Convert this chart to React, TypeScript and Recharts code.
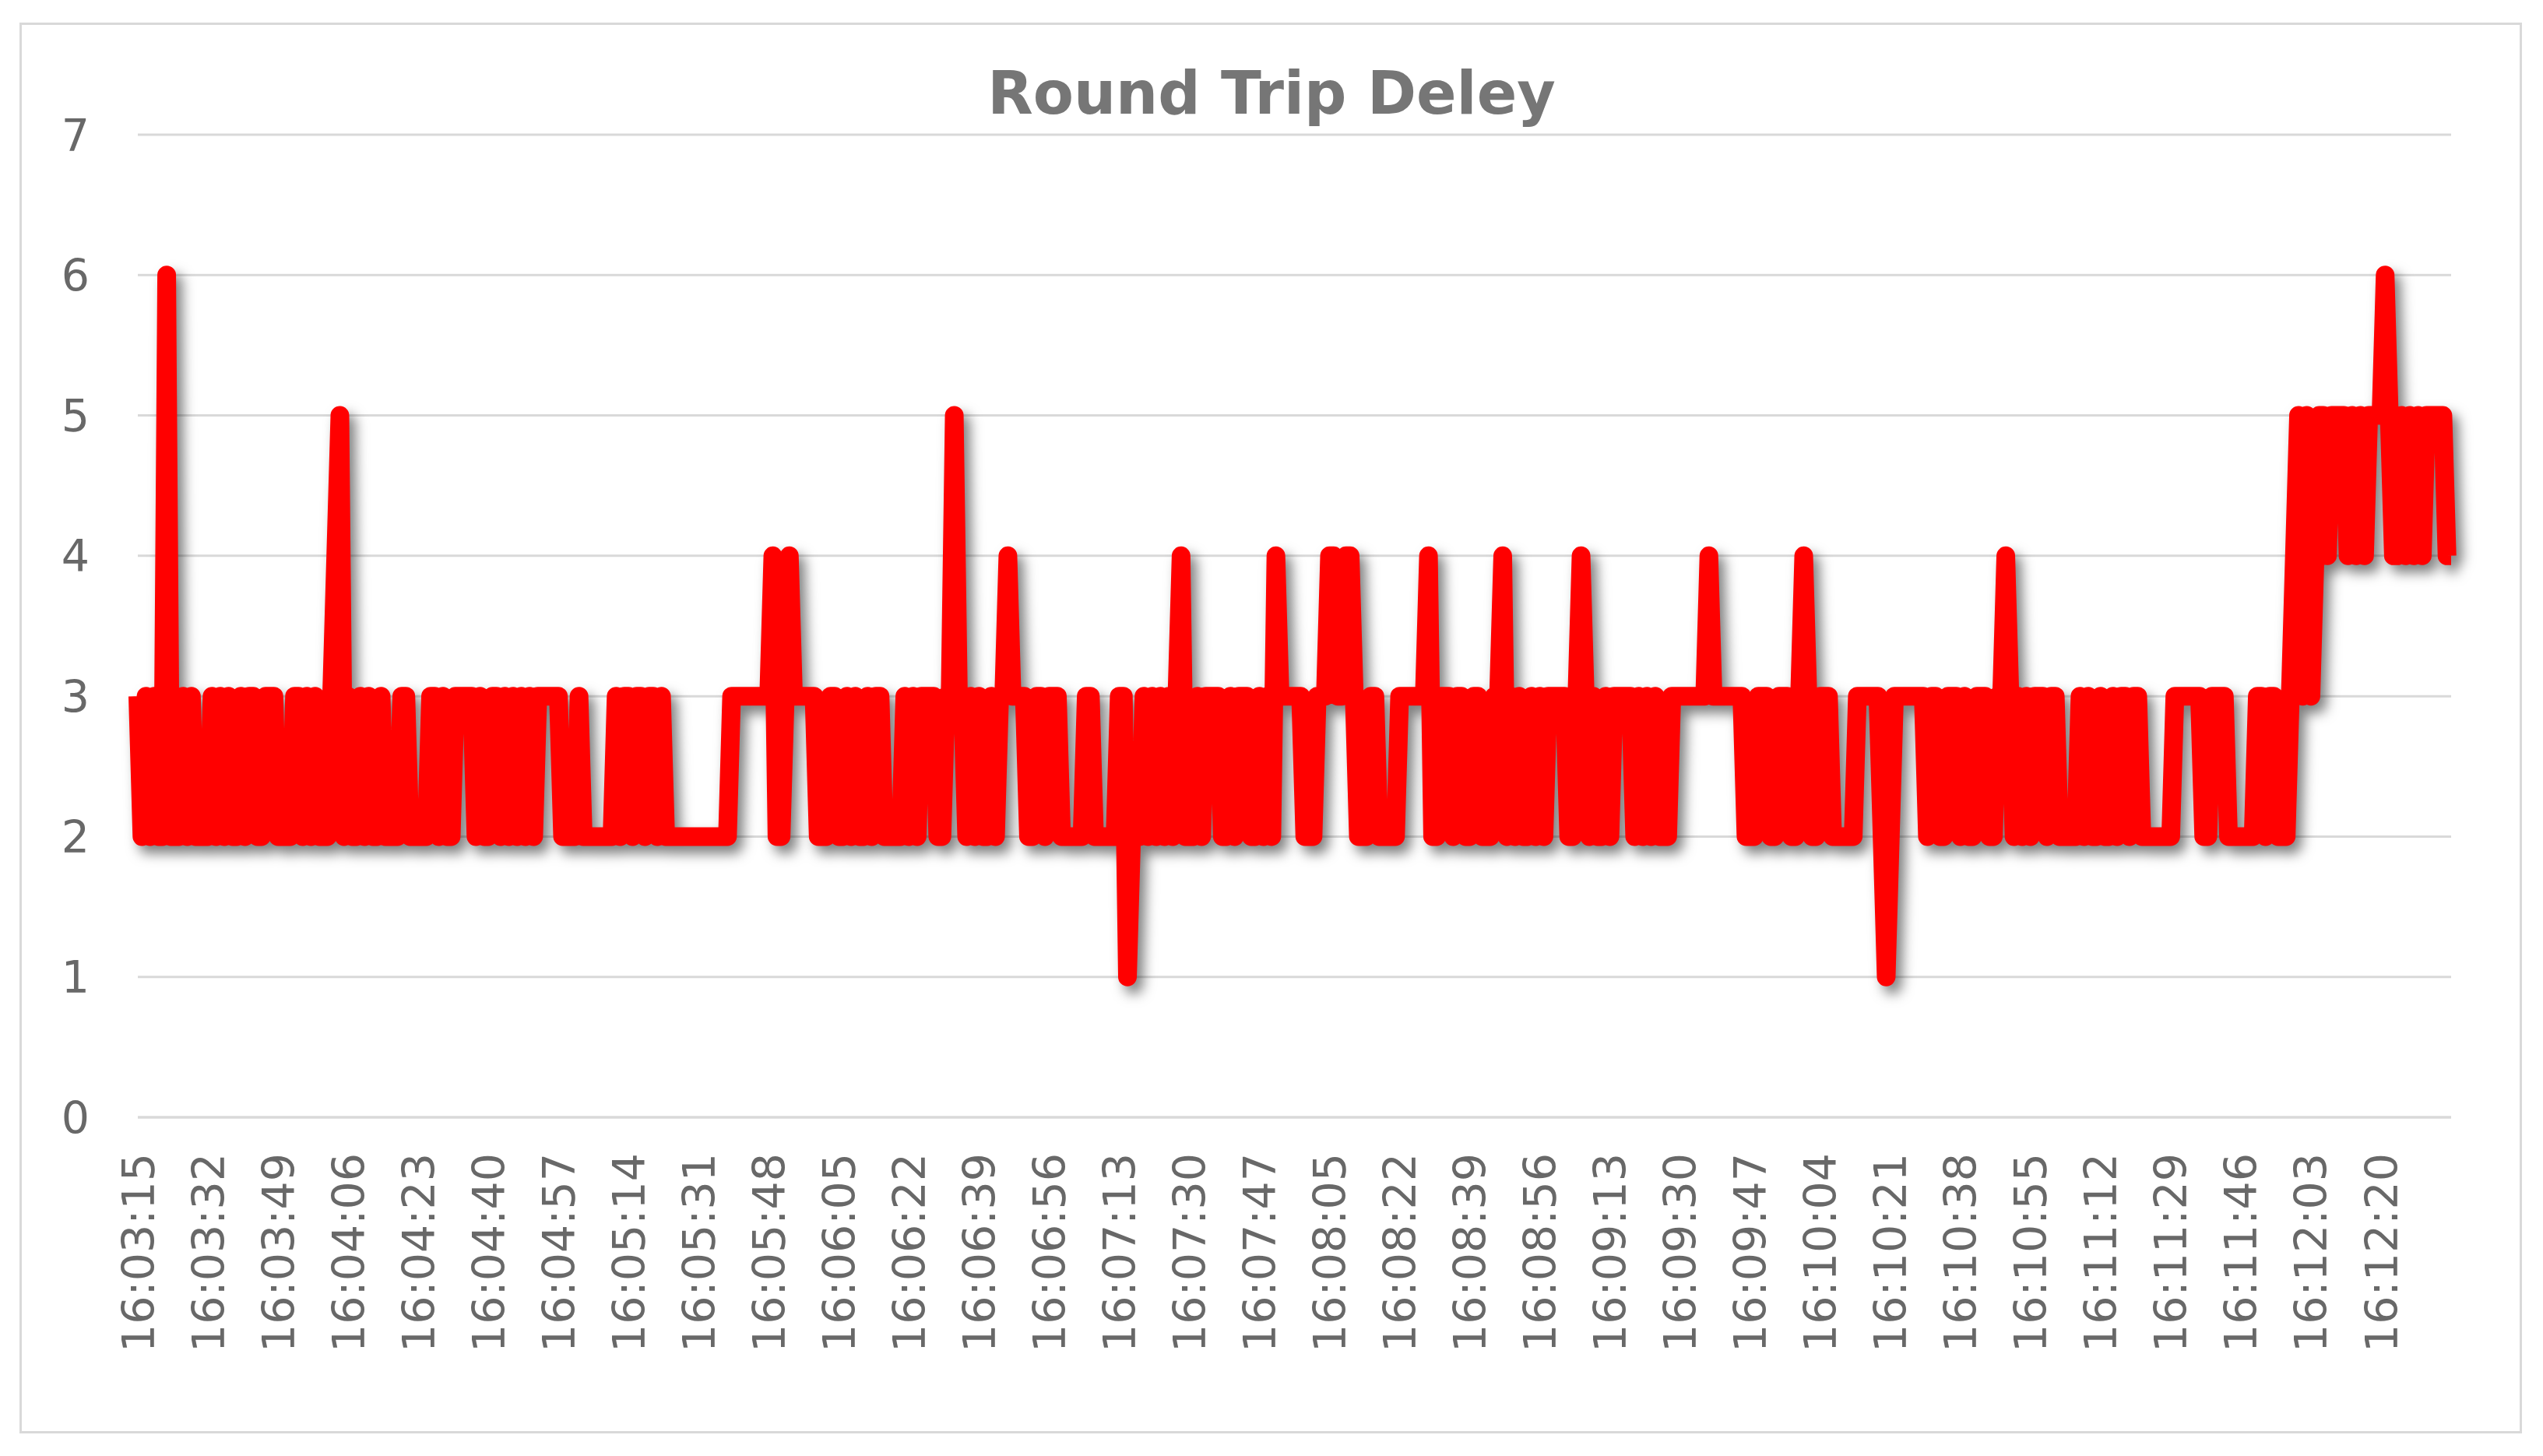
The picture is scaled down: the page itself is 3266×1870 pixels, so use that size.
import React from "react";
import { LineChart, Line, XAxis, YAxis, CartesianGrid } from "recharts";

const W = 3266;
const H = 1870;

// one reading per second; one second (somewhere between 16:07:47 and 16:08:05) is missing
const startTime = "16:03:15";
const skippedTime = "16:07:56";

const tickLabels = [
  "16:03:15", "16:03:32", "16:03:49", "16:04:06", "16:04:23", "16:04:40", "16:04:57",
  "16:05:14", "16:05:31", "16:05:48", "16:06:05", "16:06:22", "16:06:39", "16:06:56",
  "16:07:13", "16:07:30", "16:07:47", "16:08:05", "16:08:22", "16:08:39", "16:08:56",
  "16:09:13", "16:09:30", "16:09:47", "16:10:04", "16:10:21", "16:10:38", "16:10:55",
  "16:11:12", "16:11:29", "16:11:46", "16:12:03", "16:12:20",
];

const yTicks = [0, 1, 2, 3, 4, 5, 6, 7];

// round trip delay readings
const delay = [
  3, 2, 3, 2, 3, 2, 2, 6, 2, 2,
  2, 3, 2, 3, 2, 2, 2, 2, 3, 2,
  3, 2, 3, 2, 2, 3, 2, 3, 3, 2,
  2, 3, 3, 3, 2, 2, 2, 2, 3, 3,
  2, 3, 2, 3, 2, 2, 2, 3, 4, 5,
  2, 3, 2, 2, 3, 2, 3, 2, 2, 3,
  2, 2, 2, 2, 3, 3, 2, 2, 2, 2,
  2, 3, 3, 2, 3, 2, 2, 3, 3, 3,
  3, 3, 2, 3, 2, 2, 3, 3, 2, 3,
  2, 3, 2, 3, 2, 3, 2, 3, 3, 3,
  3, 3, 3, 2, 2, 2, 2, 3, 2, 2,
  2, 2, 2, 2, 2, 2, 3, 2, 3, 3,
  2, 3, 3, 2, 3, 3, 2, 3, 2, 2,
  2, 2, 2, 2, 2, 2, 2, 2, 2, 2,
  2, 2, 2, 2, 3, 3, 3, 3, 3, 3,
  3, 3, 3, 3, 4, 2, 2, 3, 4, 3,
  3, 3, 3, 3, 3, 2, 2, 2, 3, 3,
  2, 2, 3, 2, 3, 2, 2, 3, 2, 3,
  3, 2, 2, 2, 2, 2, 3, 2, 3, 2,
  3, 3, 3, 3, 2, 2, 3, 3, 5, 3,
  3, 2, 3, 2, 3, 2, 2, 3, 2, 3,
  3, 4, 3, 3, 3, 3, 2, 2, 3, 3,
  2, 3, 3, 3, 2, 2, 2, 2, 2, 2,
  3, 3, 2, 2, 2, 2, 2, 2, 3, 3,
  1, 2, 2, 2, 3, 2, 3, 2, 3, 2,
  3, 2, 3, 4, 2, 2, 2, 3, 2, 3,
  3, 3, 3, 2, 2, 3, 2, 3, 3, 3,
  2, 2, 3, 2, 3, 2, 4, 3, 3, 3,
  3, 3, 3, 2, 2, 2, 3, 3, 3, 4,
  4, 3, 3, 4, 4, 3, 2, 2, 2, 3,
  3, 2, 2, 2, 2, 2, 3, 3, 3, 3,
  3, 3, 3, 4, 2, 2, 3, 3, 3, 2,
  3, 3, 2, 2, 3, 3, 2, 2, 2, 3,
  3, 4, 2, 3, 2, 3, 2, 2, 3, 2,
  3, 2, 3, 3, 3, 3, 3, 2, 2, 3,
  4, 3, 2, 3, 2, 2, 3, 2, 3, 3,
  3, 3, 3, 2, 3, 2, 3, 2, 3, 2,
  2, 2, 3, 3, 3, 3, 3, 3, 3, 3,
  3, 4, 3, 3, 3, 3, 3, 3, 3, 3,
  2, 2, 2, 3, 3, 3, 2, 2, 3, 3,
  3, 2, 2, 3, 4, 3, 2, 2, 3, 3,
  3, 2, 2, 2, 2, 2, 2, 3, 3, 3,
  3, 3, 3, 2, 1, 2, 3, 3, 3, 3,
  3, 3, 3, 3, 2, 3, 3, 2, 2, 3,
  3, 3, 2, 3, 2, 2, 3, 3, 3, 2,
  2, 3, 3, 4, 3, 2, 3, 2, 3, 2,
  3, 3, 3, 2, 3, 3, 2, 2, 2, 2,
  2, 3, 2, 3, 2, 2, 3, 2, 2, 3,
  2, 3, 3, 2, 3, 3, 2, 2, 2, 2,
  2, 2, 2, 2, 3, 3, 3, 3, 3, 3,
  3, 2, 2, 3, 3, 3, 3, 2, 2, 2,
  2, 2, 2, 2, 3, 3, 2, 3, 3, 2,
  2, 2, 3, 4, 5, 3, 5, 3, 4, 5,
  5, 4, 5, 5, 5, 5, 4, 5, 4, 5,
  4, 5, 5, 5, 5, 6, 5, 4, 4, 5,
  4, 5, 4, 5, 4, 5, 5, 5, 5, 5,
  4, 4,
];

const toSec = (s: string) => {
  const [h, m, sec] = s.split(":").map(Number);
  return h * 3600 + m * 60 + sec;
};
const pad = (n: number) => String(n).padStart(2, "0");
const toStr = (t: number) =>
  `${Math.floor(t / 3600)}:${pad(Math.floor((t % 3600) / 60))}:${pad(t % 60)}`;

const times: string[] = [];
{
  let t = toSec(startTime);
  const skip = toSec(skippedTime);
  while (times.length < delay.length) {
    if (t !== skip) times.push(toStr(t));
    t++;
  }
}

const data = times.map((time, i) => ({ time, delay: delay[i] }));

const FONT = "'DejaVu Sans', Verdana, sans-serif";
const TICK_COLOR = "#686868";

const YTick = ({ x, y, payload }: any) => (
  <text x={x} y={y} dy="0.36em" textAnchor="end" fill={TICK_COLOR} fontSize={57} fontFamily={FONT}>
    {payload.value}
  </text>
);

const XTick = ({ x, y, payload }: any) => (
  <text
    transform={`translate(${x},${y + 46}) rotate(-90)`}
    dy="0.36em"
    textAnchor="end"
    fill={TICK_COLOR}
    fontSize={57}
    fontFamily={FONT}
  >
    {payload.value}
  </text>
);

export default function App() {
  return (
    <div style={{ position: "absolute", left: 0, top: 0, width: W, height: H, background: "#fff" }}>
      <style>{`.recharts-line-curve { filter: drop-shadow(8px 10px 8px rgba(0,0,0,0.5)); }`}</style>
      <div
        style={{
          position: "absolute",
          left: 25,
          top: 29,
          width: 3214,
          height: 1812,
          border: "3px solid #D9D9D9",
          boxSizing: "border-box",
        }}
      />
      <div
        style={{
          position: "absolute",
          left: 0,
          width: W,
          top: 72,
          textAlign: "center",
          fontFamily: FONT,
          fontWeight: "bold",
          fontSize: 76,
          lineHeight: "96px",
          color: "#767676",
        }}
      >
        Round Trip Deley
      </div>
      <div style={{ position: "absolute", left: 0, top: 0 }}>
        <LineChart width={W} height={H} data={data} margin={{ top: 173, right: 118, bottom: 135, left: 0 }}>
          <CartesianGrid vertical={false} stroke="#D9D9D9" strokeWidth={3} />
          <XAxis
            dataKey="time"
            ticks={tickLabels}
            interval={0}
            height={300}
            tickSize={0}
            tickMargin={0}
            tickLine={false}
            axisLine={{ stroke: "#D9D9D9", strokeWidth: 3 }}
            tick={(p: any) => <XTick {...p} />}
          />
          <YAxis
            domain={[0, 7]}
            ticks={yTicks}
            interval={0}
            width={177}
            tickSize={0}
            tickMargin={62}
            tickLine={false}
            axisLine={false}
            tick={(p: any) => <YTick {...p} />}
          />
          <Line
            type="linear"
            dataKey="delay"
            stroke="#FF0000"
            strokeWidth={24}
            strokeLinejoin="round"
            strokeLinecap="butt"
            dot={false}
            isAnimationActive={false}
          />
        </LineChart>
      </div>
    </div>
  );
}
